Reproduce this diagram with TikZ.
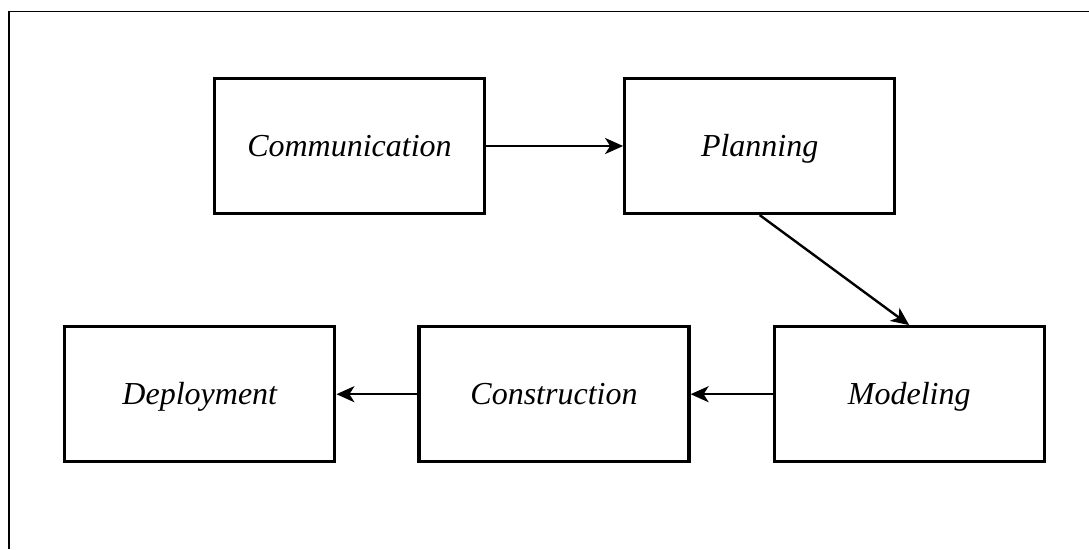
\documentclass[tikz,border=0pt]{standalone}
\usepackage{fontspec}
\newfontfamily\phasefont{Liberation Serif}
\usetikzlibrary{positioning}
\usetikzlibrary{arrows.meta}

\begin{document}
\begin{tikzpicture}[x=1pt,y=-1pt,
  phase/.style={draw,rectangle,line width=3.2pt,minimum width=270pt,minimum height=135pt,
    text height=26pt,text depth=6pt,
    font=\phasefont\itshape\fontsize{32}{38}\selectfont},
  flow/.style={line width=2.4pt,-{Stealth[length=18pt,width=16pt,inset=5pt]}}]
\useasboundingbox (0,0) rectangle (1089,549);
\draw[line width=1.6pt](9,549)--(9,11.5)--(1089,11.5);

\node[phase](comm) at (349.5,146){Communication};
\node[phase](plan)[right=137pt of comm]{Planning};
\node[phase](model)[below=110pt of plan,xshift=149.5pt]{Modeling};
\node[phase](cons)[left=82pt of model]{Construction};
\node[phase](deploy)[left=81pt of cons]{Deployment};

\draw[flow](comm)--(plan);
\draw[flow](plan.south)--(model.north);
\draw[flow](model)--(cons);
\draw[flow](cons)--(deploy);

\end{tikzpicture}
\end{document}
